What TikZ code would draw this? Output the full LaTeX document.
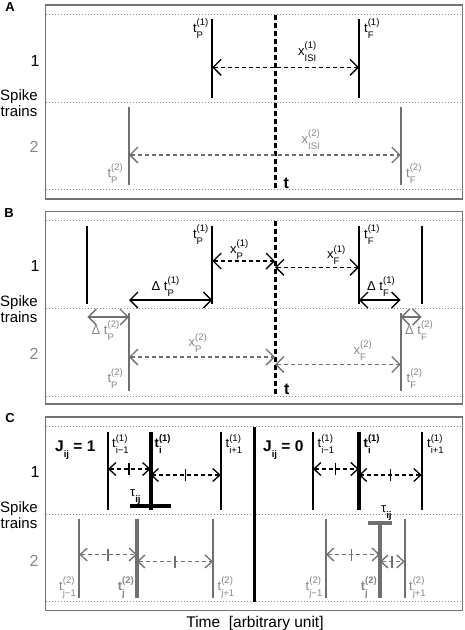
\documentclass[tikz,border=0pt]{standalone}
\usepackage{fontspec}
\setmainfont{Liberation Sans}
\usetikzlibrary{arrows.meta}
\definecolor{lg}{RGB}{112,112,112}
\definecolor{tg}{RGB}{135,135,135}
\definecolor{fg}{RGB}{115,115,115}
\definecolor{dg}{RGB}{140,140,140}
\newcommand{\lblscripts}[2]{\begingroup
  \setbox0=\hbox{\fontsize{9.5}{9.5}\selectfont #2}%
  \setbox2=\hbox{\fontsize{9.5}{9.5}\selectfont #1}%
  \dimen0=\wd0 \ifdim\wd2>\dimen0 \dimen0=\wd2 \fi
  \hbox to \dimen0{\rlap{\raise6.5pt\box0}\lower6pt\box2\hfil}%
  \endgroup}
\newcommand{\lbl}[3]{#1\lblscripts{#2}{#3}}
\tikzset{
  Bb/.tip={Straight Barb[length=8pt,width=16pt]},
  Bs/.tip={Straight Barb[length=7pt,width=13pt]},
  frame/.style={draw=fg,line width=1.4pt},
  dots/.style={draw=dg,line width=0.8pt,dash pattern=on 0.8pt off 2.2pt},
  spk/.style={draw=black,line width=2.2pt},
  spkg/.style={draw=lg,line width=2.2pt},
  spkt/.style={draw=black,line width=4pt},
  spktg/.style={draw=lg,line width=4pt},
  tline/.style={draw=black,line width=3pt,dash pattern=on 5pt off 3pt},
  isi/.style={draw=black,line width=1.3pt,dash pattern=on 4pt off 3pt,Bb-Bb},
  isig/.style={isi,draw=lg},
  isic/.style={draw=black,line width=1.3pt,dash pattern=on 4pt off 3pt,Bs-Bs},
  isicg/.style={isic,draw=lg},
  tick/.style={draw=black,line width=1.8pt},
  tickg/.style={tick,draw=lg},
  dl/.style={draw=black,line width=1.4pt,Bb-Bb},
  dlg/.style={dl,draw=lg},
  lab/.style={inner sep=0pt,font=\fontsize{13}{13}\selectfont},
  labg/.style={lab,text=tg},
  numf/.style={inner sep=0pt,font=\fontsize{16}{16}\selectfont},
  stf/.style={inner sep=0pt,align=center,font=\fontsize{15}{16}\selectfont},
  panel/.style={inner sep=0pt,font=\bfseries\fontsize{13}{13}\selectfont},
  tb/.style={inner sep=0pt,font=\bfseries\fontsize{16}{16}\selectfont},
  jf/.style={inner sep=0pt,font=\bfseries\fontsize{15.5}{15.5}\selectfont},
}
\begin{document}
\begin{tikzpicture}[x=1pt,y=-1pt]
\useasboundingbox (0,0) rectangle (464,630);
% ================= A =================
\node[panel] (labA) at (10,7) {A};
\draw[frame] (45.5,5) rectangle (462.5,199);
\draw[dots] (45.5,14.7) -- (462.5,14.7);
\draw[dots] (45.5,102.3) -- (462.5,102.3);
\draw[dots] (45.5,189.7) -- (462.5,189.7);
\node[numf] (A1) at (35,61) {1};
\node[stf] (Ast) at (19,103) {Spike\\trains};
\node[numf,text=tg] (A2) at (34,147) {2};
\draw[spk] (212.3,19) -- (212.3,98);
\draw[spk] (359,19) -- (359,98);
\draw[spkg] (129,107) -- (129,185);
\draw[spkg] (400.7,107) -- (400.7,185);
\draw[tline] (275,15) -- (275,190);
\coordinate (A1P) at (212.3,67.3);
\coordinate (A1F) at (359,67.3);
\coordinate (A2P) at (129,155);
\coordinate (A2F) at (400.7,155);
\draw[isi] (A1P) -- (A1F);
\draw[isig] (A2P) -- (A2F);
\node[lab,anchor=base east] (AtP1) at (208.5,32) {\lbl{t}{P}{(1)}};
\node[lab,anchor=base west] (AtF1) at (364,32) {\lbl{t}{F}{(1)}};
\node[lab,anchor=base west] (AxI1) at (298,55) {\lbl{x}{ISI}{(1)}};
\node[labg,anchor=base east] (AtP2) at (123,177) {\lbl{t}{P}{(2)}};
\node[labg,anchor=base west] (AtF2) at (406,177) {\lbl{t}{F}{(2)}};
\node[labg,anchor=base west] (AxI2) at (301.5,143) {\lbl{x}{ISI}{(2)}};
\node[tb,anchor=base west] (At) at (283.5,188.5) {t};
% ================= B =================
\node[panel] (labB) at (9,213) {B};
\draw[frame] (45.5,211.7) rectangle (462.5,404);
\draw[dots] (45.5,220.7) -- (462.5,220.7);
\draw[dots] (45.5,308.3) -- (462.5,308.3);
\draw[dots] (45.5,396) -- (462.5,396);
\node[numf] (B1) at (35,266) {1};
\node[stf] (Bst) at (19,309.6) {Spike\\trains};
\node[numf,text=tg] (B2) at (34,354.3) {2};
\draw[spk] (87.3,225.7) -- (87.3,304);
\draw[spk] (212.3,225.7) -- (212.3,304);
\draw[spk] (359,225.7) -- (359,304);
\draw[spk] (421.7,225.7) -- (421.7,304);
\draw[spkg] (129,313) -- (129,391);
\draw[spkg] (400.7,313) -- (400.7,391);
\draw[tline] (275,221) -- (275,396);
\coordinate (B1P) at (212.3,261);
\coordinate (B1T) at (275,261);
\coordinate (B1Tb) at (275,267.3);
\coordinate (B1F) at (359,267.3);
\coordinate (BD1a) at (129,300);
\coordinate (BD1b) at (212.3,300);
\coordinate (BD1c) at (359,300);
\coordinate (BD1d) at (400.7,300);
\coordinate (BD2a) at (87.3,317);
\coordinate (BD2b) at (129,317);
\coordinate (BD2c) at (400.7,317);
\coordinate (BD2d) at (421.7,317);
\coordinate (B2P) at (129,357);
\coordinate (B2T) at (275,357);
\coordinate (B2Tb) at (275,364.5);
\coordinate (B2F) at (400.7,364.5);
\draw[isi] (B1P) -- (B1T);
\draw[isi] (B1Tb) -- (B1F);
\draw[dl] (BD1a) -- (BD1b);
\draw[dl] (BD1c) -- (BD1d);
\draw[dlg] (BD2a) -- (BD2b);
\draw[dlg] (BD2c) -- (BD2d);
\draw[isig] (B2P) -- (B2T);
\draw[isig] (B2Tb) -- (B2F);
\node[lab,anchor=base east] (BtP1) at (208.5,238) {\lbl{t}{P}{(1)}};
\node[lab,anchor=base west] (BtF1) at (364,238) {\lbl{t}{F}{(1)}};
\node[lab,anchor=base west] (BxP1) at (230,253) {\lbl{x}{P}{(1)}};
\node[lab,anchor=base west] (BxF1) at (327,258.5) {\lbl{x}{F}{(1)}};
\node[lab,anchor=base west] (BdP1) at (151.5,290) {Δ \lbl{t}{P}{(1)}};
\node[lab,anchor=base west] (BdF1) at (367,290) {Δ \lbl{t}{F}{(1)}};
\node[labg,anchor=base west] (BdP2) at (91.5,334) {Δ \lbl{t}{P}{(2)}};
\node[labg,anchor=base west] (BdF2) at (405,334) {Δ \lbl{t}{F}{(2)}};
\node[labg,anchor=base west] (BxP2) at (188.5,346.5) {\lbl{x}{P}{(2)}};
\node[labg,anchor=base west] (BxF2) at (353.5,354) {\lbl{x}{F}{(2)}};
\node[labg,anchor=base east] (BtP2) at (123,382) {\lbl{t}{P}{(2)}};
\node[labg,anchor=base west] (BtF2) at (406.5,382) {\lbl{t}{F}{(2)}};
\node[tb,anchor=base west] (Bt) at (284,394.5) {t};
% ================= C =================
\node[panel] (labC) at (10,418) {C};
\draw[frame] (45.5,417) rectangle (462.5,610.5);
\draw[dots] (45.5,426.7) -- (462.5,426.7);
\draw[dots] (45.5,514) -- (462.5,514);
\draw[dots] (45.5,601.7) -- (462.5,601.7);
\node[numf] (C1) at (35,471.7) {1};
\node[stf] (Cst) at (19,515.5) {Spike\\trains};
\node[numf,text=tg] (C2) at (34,560.7) {2};
\draw[draw=black,line width=2.8pt] (254.5,426.7) -- (254.5,601.7);
% left half
\draw[spk] (108,431.5) -- (108,509.5);
\draw[spkt] (150.5,431.5) -- (150.5,509.5);
\draw[spk] (220.7,431.5) -- (220.7,509.5);
\draw[spkt] (129.5,505.5) -- (170.5,505.5);
\draw[spkg] (79.3,518.5) -- (79.3,598);
\draw[spktg] (137,518.5) -- (137,598);
\draw[spkg] (213,518.5) -- (213,598);
\coordinate (CL1a) at (108,469);
\coordinate (CL1b) at (150.5,469);
\coordinate (CL1c) at (150.5,475);
\coordinate (CL1d) at (220.7,475);
\coordinate (CL2a) at (79.3,554.5);
\coordinate (CL2b) at (137,554.5);
\coordinate (CL2c) at (137,561.5);
\coordinate (CL2d) at (213,561.5);
\draw[isic] (CL1a) -- (CL1b);
\draw[isic] (CL1c) -- (CL1d);
\draw[isicg] (CL2a) -- (CL2b);
\draw[isicg] (CL2c) -- (CL2d);
\draw[tick] (129,463) -- (129,475);
\draw[tick] (185.5,469) -- (185.5,481);
\draw[tickg] (108,548.5) -- (108,560.5);
\draw[tickg] (175,555.5) -- (175,567.5);
\node[jf,anchor=base west] (CJ1) at (55,451) {J\lblscripts{ij}{} = 1};
\node[lab,anchor=base west] (CLi0) at (112,447.5) {\lbl{t}{i−1}{(1)}};
\node[lab,anchor=base west,font=\bfseries\fontsize{13}{13}\selectfont] (CLi1) at (154.5,447.5) {\lbl{t}{i}{(1)}};
\node[lab,anchor=base west] (CLi2) at (225.5,447.5) {\lbl{t}{i+1}{(1)}};
\node[lab,anchor=base west] (CLtau) at (130,496.5) {τ\lblscripts{\textbf{ij}}{}};
\node[labg,anchor=base east] (CLj0) at (76,590) {\lbl{t}{j−1}{(2)}};
\node[labg,anchor=base east,font=\bfseries\fontsize{13}{13}\selectfont] (CLj1) at (134,590) {\lbl{t}{j}{(2)}};
\node[labg,anchor=base west] (CLj2) at (217.5,590) {\lbl{t}{j+1}{(2)}};
% right half
\draw[spk] (313,431.5) -- (313,509.5);
\draw[spkt] (358.8,431.5) -- (358.8,509.5);
\draw[spk] (421.7,431.5) -- (421.7,509.5);
\draw[spkg] (326,518.5) -- (326,598);
\draw[spktg] (380,522.5) -- (380,598);
\draw[spkg] (404.7,518.5) -- (404.7,598);
\draw[spktg] (367.7,522.5) -- (391.7,522.5);
\coordinate (CR1a) at (313,469);
\coordinate (CR1b) at (358.8,469);
\coordinate (CR1c) at (358.8,475);
\coordinate (CR1d) at (421.7,475);
\coordinate (CR2a) at (326,554.5);
\coordinate (CR2b) at (380,554.5);
\coordinate (CR2c) at (380,561.5);
\coordinate (CR2d) at (404.7,561.5);
\draw[isic] (CR1a) -- (CR1b);
\draw[isic] (CR1c) -- (CR1d);
\draw[isicg] (CR2a) -- (CR2b);
\draw[isicg] (CR2c) -- (CR2d);
\draw[tick] (335.5,463) -- (335.5,475);
\draw[tick] (390.5,469) -- (390.5,481);
\draw[tickg] (351.5,548.5) -- (351.5,560.5);
\draw[tickg] (392,555.5) -- (392,567.5);
\node[jf,anchor=base west] (CJ0) at (263,451) {J\lblscripts{ij}{} = 0};
\node[lab,anchor=base west] (CRi0) at (317.5,447.5) {\lbl{t}{i−1}{(1)}};
\node[lab,anchor=base west,font=\bfseries\fontsize{13}{13}\selectfont] (CRi1) at (363.5,447.5) {\lbl{t}{i}{(1)}};
\node[lab,anchor=base west] (CRi2) at (427,447.5) {\lbl{t}{i+1}{(1)}};
\node[lab,anchor=base west] (CRtau) at (381,512) {τ\lblscripts{\textbf{ij}}{}};
\node[labg,anchor=base east] (CRj0) at (322.5,590) {\lbl{t}{j−1}{(2)}};
\node[labg,anchor=base east,font=\bfseries\fontsize{13}{13}\selectfont] (CRj1) at (377,590) {\lbl{t}{j}{(2)}};
\node[labg,anchor=base west] (CRj2) at (409,590) {\lbl{t}{j+1}{(2)}};
\node[inner sep=0pt,anchor=base,font=\fontsize{15.5}{15.5}\selectfont] (time) at (255,627) {Time\ \ [arbitrary unit]};
\end{tikzpicture}
\end{document}
